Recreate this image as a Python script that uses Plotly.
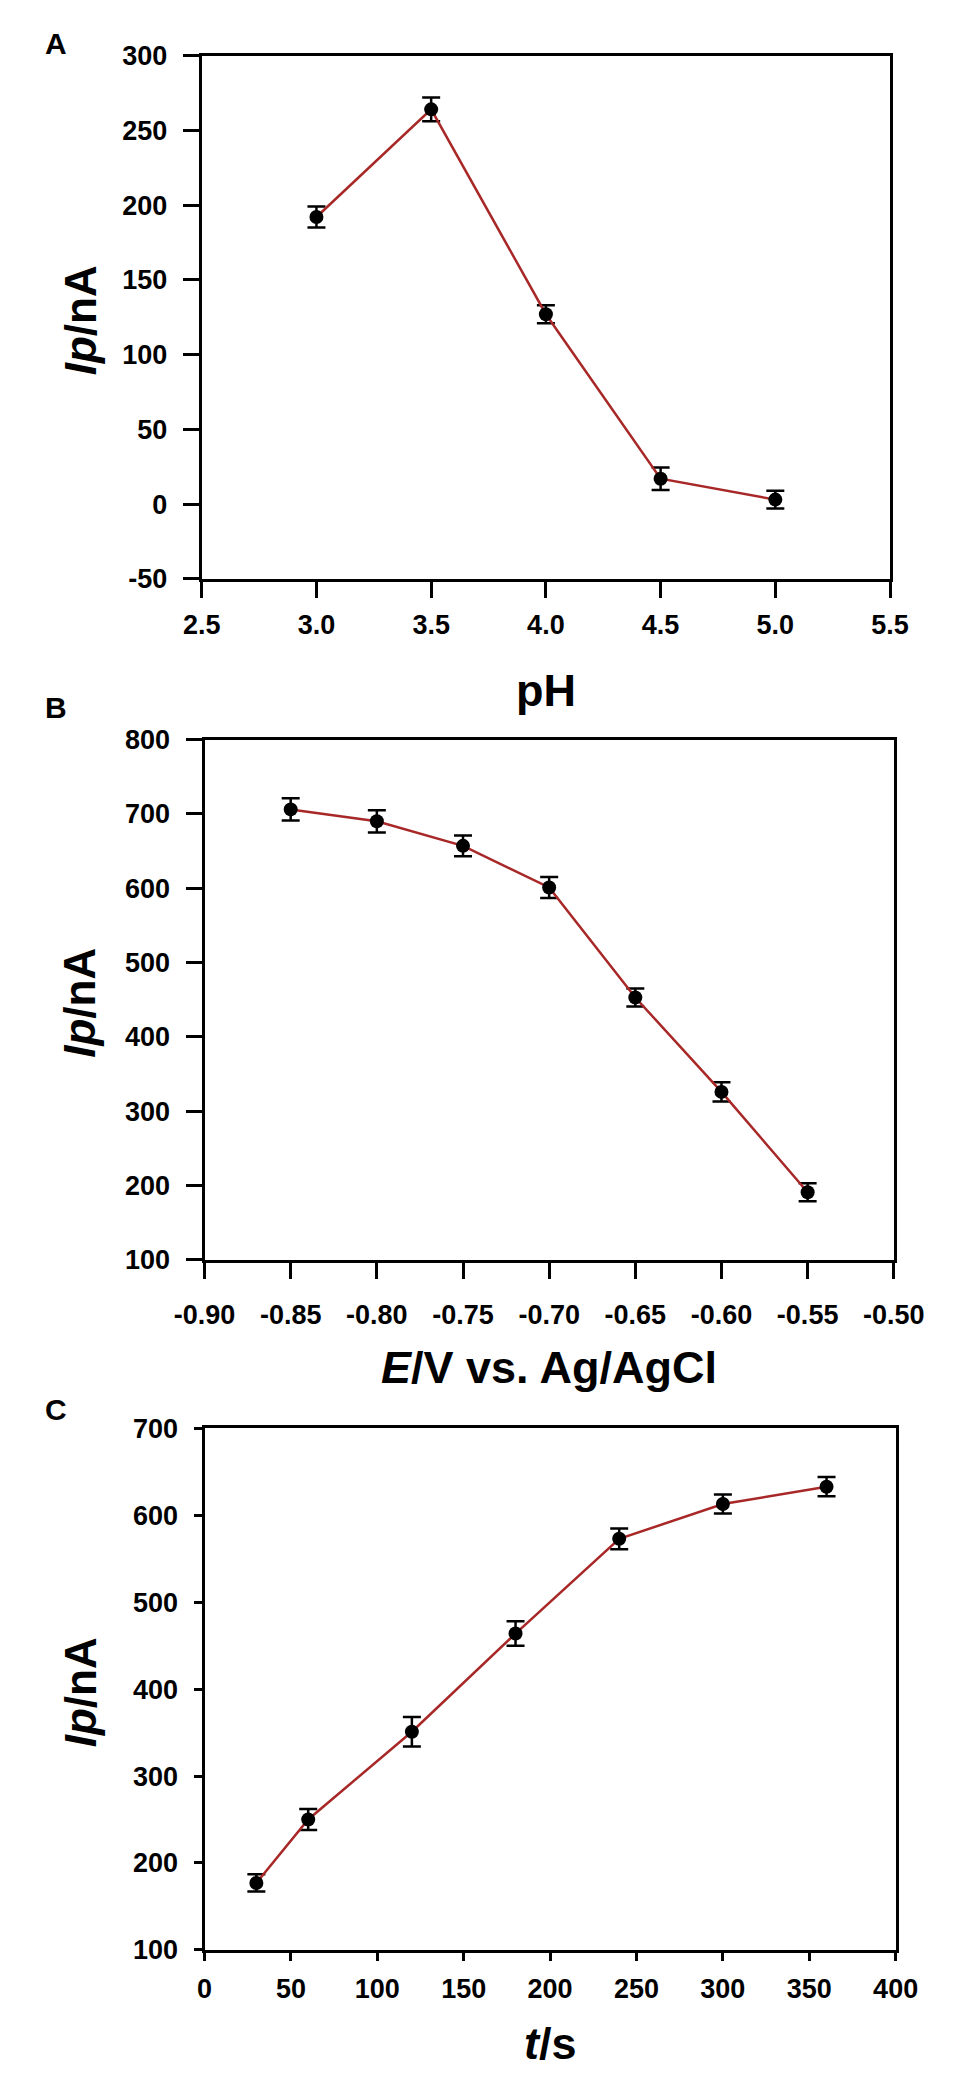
import plotly.graph_objects as go
from plotly.subplots import make_subplots

# panel A: effect of pH
ph = [3.0, 3.5, 4.0, 4.5, 5.0]
ip_ph = [192, 264, 127, 17, 3]
err_ph = [7, 8, 6, 7.5, 6]

# panel B: deposition potential
potential = [-0.85, -0.80, -0.75, -0.70, -0.65, -0.60, -0.55]
ip_pot = [706, 690, 657, 601, 453, 326, 191]
err_pot = [15, 15, 14, 14, 12, 13, 12]

# panel C: deposition time
time_s = [30, 60, 120, 180, 240, 300, 360]
ip_time = [177, 250, 351, 464, 573, 613, 633]
err_time = [10, 12, 17, 14, 12, 11, 11]

# tick labels
ph_ticks = [2.5, 3.0, 3.5, 4.0, 4.5, 5.0, 5.5]
ph_ticktext = ["2.5", "3.0", "3.5", "4.0", "4.5", "5.0", "5.5"]
pot_ticks = [-0.90, -0.85, -0.80, -0.75, -0.70, -0.65, -0.60, -0.55, -0.50]
pot_ticktext = ["-0.90", "-0.85", "-0.80", "-0.75", "-0.70", "-0.65", "-0.60", "-0.55", "-0.50"]
ya_ticks = [-50, 0, 50, 100, 150, 200, 250, 300]
ya_ticktext = ["-50", "0", "50", "100", "150", "200", "250", "300"]

W, H = 957, 2083
FONT = "Liberation Sans, Arial, sans-serif"
LINE_RED = "#A82828"

# plot boxes in pixels: (left, right, top, bottom)
boxes = [(174, 910, 33, 564), (177, 914, 727, 1255), (177, 916, 1426, 1955)]


def xdom(b):
    return [b[0] / W, b[1] / W]


def ydom(b):
    return [1 - b[3] / H, 1 - b[2] / H]


fig = make_subplots(rows=3, cols=1)

series = [(ph, ip_ph, err_ph), (potential, ip_pot, err_pot), (time_s, ip_time, err_time)]
for i, (x, y, e) in enumerate(series, start=1):
    fig.add_trace(
        go.Scatter(
            x=x,
            y=y,
            mode="lines+markers",
            line=dict(color=LINE_RED, width=2.5),
            marker=dict(color="black", size=14),
            error_y=dict(type="data", array=e, color="black", thickness=2.5, width=9),
            showlegend=False,
        ),
        row=i,
        col=1,
    )

axis_common = dict(
    showline=True,
    linecolor="black",
    linewidth=3,
    mirror=True,
    ticks="outside",
    ticklen=16,
    tickwidth=3,
    tickcolor="black",
    showgrid=False,
    zeroline=False,
    tickfont=dict(family=FONT, size=27, color="black", weight="bold"),
)

fig.update_xaxes(axis_common)
fig.update_yaxes(axis_common)

fig.update_xaxes(domain=xdom(boxes[0]), range=[2.5, 5.5], tickvals=ph_ticks,
                 ticktext=ph_ticktext, ticklabelstandoff=4, row=1, col=1)
fig.update_yaxes(domain=ydom(boxes[0]), range=[-50, 300], tickvals=ya_ticks,
                 ticktext=ya_ticktext, ticklabelstandoff=10, row=1, col=1)
fig.update_xaxes(domain=xdom(boxes[1]), range=[-0.90, -0.50], tickvals=pot_ticks,
                 ticktext=pot_ticktext, ticklabelstandoff=13, row=2, col=1)
fig.update_yaxes(domain=ydom(boxes[1]), range=[100, 800], dtick=100,
                 ticklabelstandoff=10, row=2, col=1)
fig.update_xaxes(domain=xdom(boxes[2]), range=[0, 400], dtick=50, ticklen=8,
                 ticklabelstandoff=5, row=3, col=1)
fig.update_yaxes(domain=ydom(boxes[2]), range=[100, 700], dtick=100, ticklen=8,
                 ticklabelstandoff=10, row=3, col=1)

annotations = []
# panel letters
for letter, ypx in [("A", 21), ("B", 695), ("C", 1407)]:
    annotations.append(dict(text=f"<b>{letter}</b>", x=18 / W, y=1 - ypx / H))
# y titles
for b in boxes:
    annotations.append(dict(text="<b><i>Ip</i>/nA</b>", x=44 / W, y=1 - ((b[2] + b[3]) / 2 + 3) / H,
                            textangle=-90, font_size=44))
# x titles
x_titles = ["<b>pH</b>", "<b><i>E</i>/V vs. Ag/AgCl</b>", "<b><i>t</i>/s</b>"]
x_title_y = [677, 1364, 2050]
for b, t, ypx in zip(boxes, x_titles, x_title_y):
    annotations.append(dict(text=t, x=(b[0] + b[1]) / 2 / W, y=1 - ypx / H, font_size=45))

for a in annotations:
    a.setdefault("font_size", 30)
    a.update(xref="paper", yref="paper", showarrow=False, xanchor="center", yanchor="middle")
    a["font"] = dict(family=FONT, size=a.pop("font_size"), color="black")

fig.update_layout(
    width=W,
    height=H,
    margin=dict(l=0, r=0, t=0, b=0),
    paper_bgcolor="white",
    plot_bgcolor="white",
    annotations=annotations,
)

fig.write_html("out.html")
